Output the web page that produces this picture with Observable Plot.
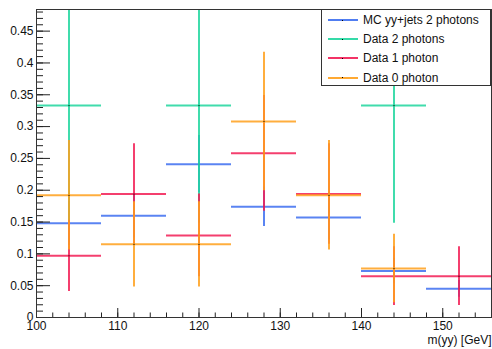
<!DOCTYPE html>
<html><head><meta charset="utf-8">
<script src="https://cdn.jsdelivr.net/npm/d3@7"></script>
<script src="https://cdn.jsdelivr.net/npm/@observablehq/plot@0.6"></script>
<style>
body{margin:0;background:#fff;font-family:"Liberation Sans",Arial,sans-serif;}
#wrap{position:relative;width:492px;height:349px;overflow:hidden;}
#legend{position:absolute;left:321px;top:9px;width:170px;height:77px;border:1px solid #333;background:#fff;box-sizing:border-box;}
.row{position:absolute;left:0;height:19px;width:100%;}
.sw{position:absolute;left:6px;width:30px;height:2px;}
.dot{position:absolute;left:20px;width:1px;height:1px;background:#000;}
.lab{position:absolute;left:41px;font-size:12px;color:#111;line-height:14px;white-space:nowrap;}
</style></head><body><div id="wrap"></div>
<script>
const binEdges = [100,108,116,124,132,140,148,156];
const seriesNames = ["MC yy+jets 2 photons","Data 2 photons","Data 1 photon","Data 0 photon"];
const seriesColors = ["#3d6ff0","#1fd69e","#f21d55","#ffa01c"];
const mcValues    = [0.148,0.160,0.241,0.174,0.157,0.073,0.045];
const mcErrors    = [0.035,0.035,0.045,0.031,0.035,0.020,0.013];
const data2Values = [0.333,0,0.333,0,0,0.333,0];
const data2Errors = [0.185,0,0.185,0,0,0.185,0];
const data1Values = [0.097,0.194,0.129,0.258,0.194,0.065,0.065];
const data1Errors = [0.056,0.079,0.065,0.091,0.079,0.046,0.046];
const data0Values = [0.192,0.115,0.115,0.308,0.192,0.077,0];
const data0Errors = [0.086,0.067,0.067,0.109,0.086,0.054,0];
const yMajorTicks = [0,0.05,0.1,0.15,0.2,0.25,0.3,0.35,0.4,0.45];
const yMinorTicks = d3.range(0,49).map(i=>i/100);
const xMajorTicks = [100,110,120,130,140,150];
const xMinorTicks = d3.range(100,157,2);
const xTitle = "m(yy) [GeV]";

const allValues = [mcValues,data2Values,data1Values,data0Values];
const allErrors = [mcErrors,data2Errors,data1Errors,data0Errors];

function rows(values, errors){
  const out=[];
  values.forEach((v,i)=>{
    if(v>0) out.push({lo:binEdges[i],hi:binEdges[i+1],c:(binEdges[i]+binEdges[i+1])/2,v,ylo:v-errors[i],yhi:v+errors[i]});
  });
  return out;
}

const marks=[];
seriesNames.forEach((name,k)=>{
  const r=rows(allValues[k],allErrors[k]);
  const col=seriesColors[k];
  marks.push(Plot.ruleY(r,{y:"v",x1:"lo",x2:"hi",stroke:col,strokeWidth:2,strokeOpacity:0.85}));
  marks.push(Plot.ruleX(r,{x:"c",y1:"ylo",y2:"yhi",stroke:col,strokeWidth:2,strokeOpacity:0.85,clip:true}));
  marks.push(Plot.dot(r,{x:"c",y:"v",r:0.6,fill:"#000",stroke:null}));
});

const chart = Plot.plot({
  width:492, height:349,
  marginLeft:36, marginRight:1, marginTop:9, marginBottom:32,
  style:{fontFamily:"'Liberation Sans',Arial,sans-serif",fontSize:"12px",color:"#111",background:"#fff"},
  x:{domain:[100,156]},
  y:{domain:[0,0.484]},
  marks:[
    ...marks,
    Plot.axisY(yMinorTicks,{tickSize:-7,tickFormat:()=> "",label:null,stroke:"#222"}),
    Plot.axisY(yMajorTicks,{tickSize:-14,tickPadding:17,tickFormat:d=>String(+d.toFixed(2)),label:null,stroke:"#222"}),
    Plot.axisX(xMinorTicks,{tickSize:-4.5,tickFormat:()=> "",label:null,stroke:"#222"}),
    Plot.axisX(xMajorTicks,{tickSize:-9,tickPadding:13,tickFormat:d=>String(d),label:null,stroke:"#222"}),
    Plot.frame({stroke:"#333"}),
    Plot.text([xTitle],{frameAnchor:"bottom-right",text:d=>d,dy:26,textAnchor:"end",fill:"#111"})
  ]
});
const wrap=document.getElementById("wrap");
wrap.appendChild(chart);

const leg=document.createElement("div");
leg.id="legend";
seriesNames.forEach((name,k)=>{
  const row=document.createElement("div");
  row.className="row";
  const cy=[10,29,48,67.5][k];
  row.style.top=(cy-9.5)+"px";
  row.innerHTML=`<div class="sw" style="top:8.5px;background:${seriesColors[k]};opacity:0.9"></div><div class="dot" style="top:9px"></div><div class="lab" style="top:2.5px">${name}</div>`;
  leg.appendChild(row);
});
wrap.appendChild(leg);
</script>
</body></html>
